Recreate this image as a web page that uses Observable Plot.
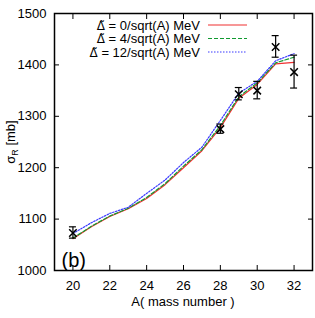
<!DOCTYPE html>
<html><head><meta charset="utf-8">
<script src="https://cdn.jsdelivr.net/npm/d3@7"></script>
<script src="https://cdn.jsdelivr.net/npm/@observablehq/plot@0.6"></script>
<style>body{margin:0;background:#fff}svg{font-family:"Liberation Sans",Arial,sans-serif}</style>
</head><body><div id="chart"></div>
<script>
const massNumbers = [20,21,22,23,24,25,26,27,28,29,30,31,32];
const sigmaL0  = [1062,1085,1105,1120,1140,1167,1200,1233,1278,1335,1362,1402,1405];
const sigmaL4  = [1063,1086,1106,1121,1142,1169,1203,1235,1282,1338,1365,1404,1415];
const sigmaL12 = [1072,1093,1111,1123,1150,1176,1210,1240,1292,1345,1368,1408,1422];
const seriesNames = [" = 0/sqrt(A) MeV"," = 4/sqrt(A) MeV"," = 12/sqrt(A) MeV"];
const seriesColors = ["#f03030","#109a30","#3a3aff"];
const seriesDash = ["none","4,2","1.5,1.5"];
const expA = [20,28,29,30,31,32];
const expSigma = [1073,1275,1343,1350,1435,1386];
const expErr = [11,9,12,17,21,32];
const xTicks = [20,22,24,26,28,30,32];
const yTicks = [1000,1100,1200,1300,1400,1500];

const lines = [];
[sigmaL0,sigmaL4,sigmaL12].forEach((arr,k)=>arr.forEach((v,i)=>lines.push({A:massNumbers[i],s:v,k})));
const exp = expA.map((a,i)=>({A:a,s:expSigma[i],lo:expSigma[i]-expErr[i],hi:expSigma[i]+expErr[i]}));

const plot = Plot.plot({
  width:315,height:318,
  marginLeft:54,marginRight:3,marginTop:13,marginBottom:48,
  style:{fontSize:"13px",fontFamily:"Liberation Sans, Arial, sans-serif",color:"#000",background:"#fff"},
  x:{type:"linear",domain:[19,33]},
  y:{type:"linear",domain:[1000,1500]},
  marks:[
    Plot.axisX({ticks:xTicks,tickSize:-5,tickPadding:15,tickFormat:"d",label:null,anchor:"bottom"}),
    Plot.axisX({ticks:xTicks,tickSize:-5,tickFormat:()=>"",label:null,anchor:"top"}),
    Plot.axisY({ticks:yTicks,tickSize:-5,tickPadding:13,tickFormat:"d",label:null,anchor:"left"}),
    Plot.axisY({ticks:yTicks,tickSize:-5,tickFormat:()=>"",label:null,anchor:"right"}),
    ...[0,1,2].map(k=>Plot.line(lines.filter(d=>d.k===k),{x:"A",y:"s",stroke:seriesColors[k],strokeWidth:1.2,strokeDasharray:seriesDash[k]})),
    Plot.ruleX(exp,{x:"A",y1:"lo",y2:"hi",stroke:"#000",strokeWidth:1.2}),
    Plot.dot(exp,{x:"A",y:"s",symbol:"times",r:3.5,stroke:"#000",strokeWidth:1.5}),
    Plot.text(["(b)"],{frameAnchor:"bottom-left",dx:7,dy:-4,fontSize:20,textAnchor:"start",lineAnchor:"bottom"}),
    Plot.frame({stroke:"#000",strokeWidth:1.5})
  ]
});
document.getElementById("chart").appendChild(plot);
const svg = d3.select(plot);
const xs = plot.scale("x"), ys = plot.scale("y");
// error bar caps
exp.forEach(d=>{
  [d.lo,d.hi].forEach(v=>{
    svg.append("line").attr("x1",xs.apply(d.A)-3.5).attr("x2",xs.apply(d.A)+3.5)
      .attr("y1",ys.apply(v)).attr("y2",ys.apply(v)).attr("stroke","#000").attr("stroke-width",1.2);
  });
});
// legend
seriesNames.forEach((n,k)=>{
  const y = 25 + k*13.5;
  const t = svg.append("text").attr("x",200).attr("y",y).attr("dy","0.35em").attr("text-anchor","end")
    .attr("font-size",13);
  t.append("tspan").attr("font-family","DejaVu Sans").attr("font-size",12).text("\u0394\u0303");
  t.append("tspan").text(n);
  svg.append("line").attr("x1",208).attr("x2",247).attr("y1",y).attr("y2",y)
    .attr("stroke",seriesColors[k]).attr("stroke-width",1.2).attr("stroke-dasharray",seriesDash[k]);
});
// x label
svg.append("text").attr("x",183).attr("y",306).attr("text-anchor","middle").attr("font-size",13).text("A( mass number )");
// y label
const yl = svg.append("text").attr("transform","translate(15,142) rotate(-90)").attr("text-anchor","middle").attr("font-size",13);
yl.append("tspan").text("\u03c3");
yl.append("tspan").attr("font-size",9).attr("dy",3).text("R");
yl.append("tspan").attr("dy",-3).text(" [mb]");
</script></body></html>
